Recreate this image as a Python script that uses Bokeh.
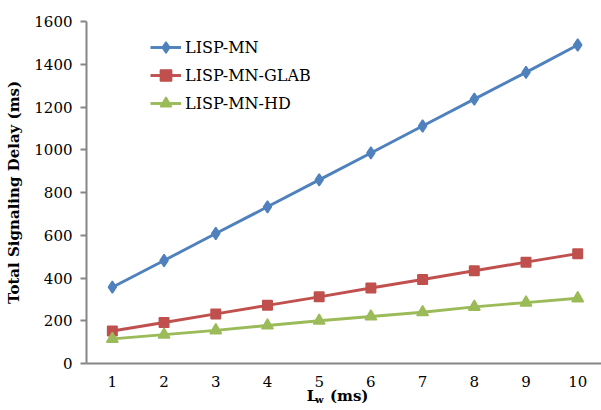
from bokeh.plotting import figure
from bokeh.models import Range1d, Legend, LegendItem, FixedTicker, LinearAxis
from bokeh.embed import file_html
from bokeh.resources import INLINE

x_vals = [1, 2, 3, 4, 5, 6, 7, 8, 9, 10]
x_labels = ["1", "2", "3", "4", "5", "6", "7", "8", "9", "10"]
lisp_mn = [357, 482, 608, 733, 859, 985, 1111, 1237, 1362, 1490]
lisp_mn_glab = [152, 192, 232, 272, 312, 353, 393, 434, 474, 514]
lisp_mn_hd = [115, 135, 155, 178, 200, 220, 240, 265, 285, 305]
series_names = ["LISP-MN", "LISP-MN-GLAB", "LISP-MN-HD"]
y_ticks = [0, 200, 400, 600, 800, 1000, 1200, 1400, 1600]
y_title = "Total Signaling Delay (ms)"
x_title_parts = ["L", "w", "(ms)"]   # L with subscript w, then (ms)

FONT = "DejaVu Serif"
AXIS_COLOR = "#868686"

p = figure(width=601, height=410, output_backend="svg", toolbar_location=None,
           x_range=Range1d(0.5, 10.46), y_range=Range1d(0, 1600),
           min_border_left=86, min_border_right=0, min_border_top=21,
           min_border_bottom=47)
p.outline_line_color = None
p.background_fill_color = "white"
p.border_fill_color = "white"
p.xgrid.visible = False
p.ygrid.visible = False

colors = ["#4F81BD", "#C0504D", "#9BBB59"]
markers = ["diamond", "square", "triangle"]
sizes = [12, 9.5, 11.5]
items = []
for data, name, c, m, s in zip([lisp_mn, lisp_mn_glab, lisp_mn_hd], series_names,
                               colors, markers, sizes):
    l = p.line(x_vals, data, line_color=c, line_width=2.9)
    sc = p.scatter(x_vals, data, marker=m, size=s, fill_color=c, line_color=c,
                   line_width=1.5)
    items.append(LegendItem(label=name, renderers=[l, sc]))

legend = Legend(items=items, location=(64, 246))
legend.margin = 0
legend.padding = 0
legend.spacing = 0
legend.label_height = 28
legend.glyph_height = 28
legend.glyph_width = 31
legend.label_standoff = 4
legend.border_line_color = None
legend.background_fill_alpha = 0
legend.label_text_font = FONT
legend.label_text_font_size = "16px"
legend.label_text_color = "#000000"
p.add_layout(legend, "center")

# main axes
p.xaxis.ticker = FixedTicker(ticks=x_vals)
p.xaxis.major_label_overrides = {v: t for v, t in zip(x_vals, x_labels)}
p.yaxis.ticker = FixedTicker(ticks=y_ticks)
for ax in (p.xaxis[0], p.yaxis[0]):
    ax.axis_line_color = AXIS_COLOR
    ax.axis_line_width = 2
    ax.major_tick_line_color = AXIS_COLOR
    ax.major_tick_line_width = 2
    ax.minor_tick_line_color = None
    ax.major_label_text_font = FONT
    ax.major_label_text_font_size = "15px"
    ax.major_label_text_color = "#000000"
    ax.axis_label_text_font = FONT
    ax.axis_label_text_font_style = "bold"
    ax.axis_label_text_font_size = "15px"
    ax.axis_label_text_color = "#000000"
p.xaxis.major_tick_out = 0
p.xaxis.major_tick_in = 0
p.xaxis.major_label_standoff = 12
p.yaxis.major_tick_out = 6
p.yaxis.major_tick_in = 0
p.yaxis.major_label_standoff = 8
p.yaxis.axis_label = y_title
p.yaxis.axis_label_standoff = 8

# x axis title "L_w (ms)" built from tick labels of two extra, invisible axes
pos_L, pos_w, pos_ms = 4.86, 5.00, 5.58


def title_axis(ticks, labels, size, standoff):
    ax = LinearAxis(ticker=FixedTicker(ticks=ticks),
                    major_label_overrides={t: s for t, s in zip(ticks, labels)})
    ax.axis_line_color = None
    ax.major_tick_line_color = None
    ax.minor_tick_line_color = None
    ax.major_tick_out = 0
    ax.major_tick_in = 0
    ax.major_label_standoff = standoff
    ax.major_label_text_font = FONT
    ax.major_label_text_font_style = "bold"
    ax.major_label_text_font_size = size
    ax.major_label_text_color = "#000000"
    return ax


p.add_layout(title_axis([pos_L, pos_ms], [x_title_parts[0], x_title_parts[2]], "15px", -3),
             "below")
p.add_layout(title_axis([pos_w], [x_title_parts[1]], "10px", -14), "below")

open("out.html", "w").write(file_html(p, INLINE))
